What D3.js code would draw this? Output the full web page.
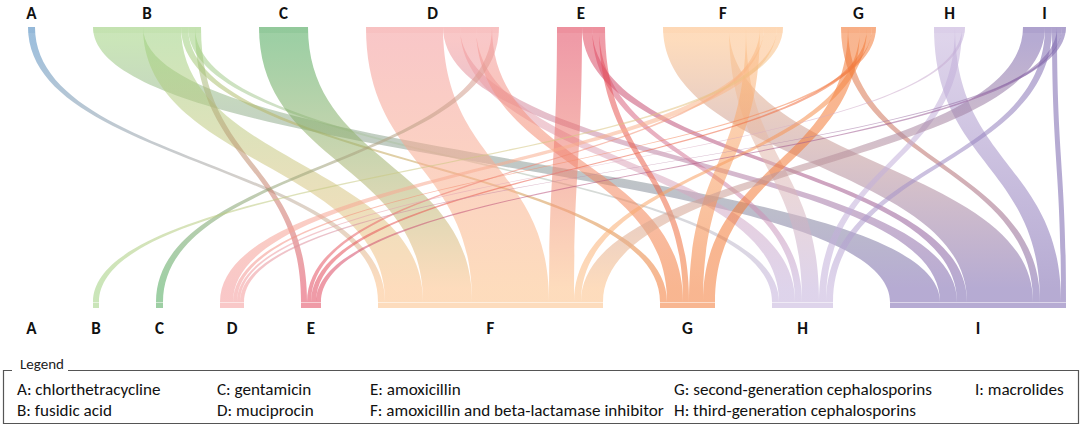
<!DOCTYPE html>
<html><head><meta charset="utf-8">
<script src="https://cdn.jsdelivr.net/npm/d3@7"></script>
<style>body{margin:0;background:#fff;} svg{display:block;}</style>
</head><body>
<svg id="chart" width="1084" height="427"></svg>
<script>
// ---- data ----
const nodeIds = ["A","B","C","D","E","F","G","H","I"];
const nodeColors = ["#4f8bc0","#9fd07f","#4ea85a","#f49a9a","#e2495f","#fcbf86","#f37a36","#c3b0da","#7a66ae"];
const legendNames = ["chlorthetracycline","fusidic acid","gentamicin","muciprocin","amoxicillin",
  "amoxicillin and beta-lactamase inhibitor","second-generation cephalosporins","third-generation cephalosporins","macrolides"];
// links in departure order within each source
const linkSource = ["A", "B","B","B","B","B", "C", "D","D","D","D","D", "E","E","E","E",
  "F","F","F","F","F","F", "G","G","G","G","G", "H","H","H", "I","I","I","I","I"];
const linkTarget = ["F", "I","F","G","H","E", "F", "F","I","H","G","C", "F","I","H","G",
  "I","H","G","E","D","B", "I","G","F","E","D", "I","H","D", "F","H","I","E","D"];
const linkValue  = [7, 50,38,7,7,6, 49, 77,17,16,16,7, 25,10,7,6,
  66,17,14,4,13,6, 7,12,7,5,4, 21,7,3, 22,7,5,5,4];

// ---- layout ----
const xLeft = 28, xRight = 1066, gap = 58;
const topY = 27, botY = 302, barH = 6;
const svg = d3.select("#chart");
const defs = svg.append("defs");

const idx = new Map(nodeIds.map((d,i)=>[d,i]));
const links = linkSource.map((s,i)=>({s:idx.get(s), t:idx.get(linkTarget[i]), v:linkValue[i], i}));
const topTot = nodeIds.map((d,i)=>d3.sum(links.filter(l=>l.s===i),l=>l.v));
const botTot = nodeIds.map((d,i)=>d3.sum(links.filter(l=>l.t===i),l=>l.v));
const total = d3.sum(topTot);
const wScale = d3.scaleLinear().domain([0,total]).range([0, xRight - xLeft - gap*(nodeIds.length-1)]);

// top positions
const topX = []; let cx = xLeft;
nodeIds.forEach((d,i)=>{ topX[i]=cx; cx += wScale(topTot[i]) + gap; });
// bottom positions: non-empty nodes spread from the first one's top slot to the right edge
const botIdx = nodeIds.map((d,i)=>i).filter(i=>botTot[i]>0);
const botStart = topX[botIdx[0]];
const botGap = (xRight - botStart - wScale(total)) / (botIdx.length-1);
const botX = nodeIds.map(()=>null); cx = botStart;
botIdx.forEach(i=>{ botX[i]=cx; cx += wScale(botTot[i]) + botGap; });

// link positions
const sCur = topX.slice();
links.forEach(l=>{ l.sx0=sCur[l.s]; l.sx1=l.sx0+wScale(l.v); sCur[l.s]=l.sx1; });
botIdx.forEach(j=>{
  let c = botX[j];
  links.filter(l=>l.t===j).sort((a,b)=>a.s-b.s || a.i-b.i).forEach(l=>{ l.tx0=c; l.tx1=c+wScale(l.v); c=l.tx1; });
});

const ym = (topY+botY)/2;
const linkPath = l => `M${l.sx0},${topY}C${l.sx0},${ym} ${l.tx0},${ym} ${l.tx0},${botY}L${l.tx1},${botY}C${l.tx1},${ym} ${l.sx1},${ym} ${l.sx1},${topY}Z`;

links.forEach(l=>{
  const g = defs.append("linearGradient").attr("id","g"+l.i)
    .attr("gradientUnits","userSpaceOnUse").attr("x1",0).attr("y1",topY).attr("x2",0).attr("y2",botY);
  g.append("stop").attr("offset","0.05").attr("stop-color",nodeColors[l.s]);
  g.append("stop").attr("offset","0.95").attr("stop-color",nodeColors[l.t]);
});

svg.append("g").selectAll("path").data(links).join("path")
  .attr("d",linkPath).attr("fill",l=>`url(#g${l.i})`).attr("fill-opacity",0.55);

// node bars
svg.append("g").selectAll("rect").data(nodeIds.map((d,i)=>i)).join("rect")
  .attr("x",i=>topX[i]).attr("y",topY).attr("width",i=>wScale(topTot[i])).attr("height",barH)
  .attr("fill",i=>nodeColors[i]).attr("fill-opacity",0.12);
svg.append("g").selectAll("rect").data(botIdx).join("rect")
  .attr("x",i=>botX[i]).attr("y",botY).attr("width",i=>wScale(botTot[i])).attr("height",barH)
  .attr("fill",i=>nodeColors[i]).attr("fill-opacity",0.55);
svg.append("g").selectAll("line").data(botIdx).join("line")
  .attr("x1",i=>botX[i]).attr("x2",i=>botX[i]+wScale(botTot[i])).attr("y1",botY+0.5).attr("y2",botY+0.5)
  .attr("stroke","#fff").attr("stroke-opacity",0.5);

// labels
const lblFont = "Carlito, 'Open Sans', 'Liberation Sans', Arial, sans-serif";
svg.append("g").selectAll("text").data(nodeIds).join("text")
  .attr("x",(d,i)=>topX[i]+wScale(topTot[i])/2).attr("y",19)
  .attr("text-anchor","middle").attr("font-family",lblFont).attr("font-weight","bold").attr("font-size",17)
  .attr("fill","#111").text(d=>d);
svg.append("g").selectAll("text").data(nodeIds).join("text")
  .attr("x",(d,i)=>botX[i]===null ? topX[i]+wScale(topTot[i])/2 : botX[i]+wScale(botTot[i])/2).attr("y",334)
  .attr("text-anchor","middle").attr("font-family",lblFont).attr("font-weight","bold").attr("font-size",17)
  .attr("fill","#111").text(d=>d);

// legend
const lgFont = "Carlito, 'Liberation Sans', Arial, sans-serif";
const lg = svg.append("g").attr("font-family",lgFont);
lg.append("path").attr("d","M68,370.5H1078.5V423.5H3.5V370.5H12").attr("fill","none").attr("stroke","#555").attr("stroke-width",1.2);
lg.append("text").attr("x",20).attr("y",369).attr("font-size",15).attr("fill","#222").text("Legend");
const colX = [17,217,370,674,975];
const legItems = nodeIds.map((d,i)=>({t:`${d}: ${legendNames[i]}`, col:Math.floor(i/2), row:i%2}));
const items = lg.selectAll("text.item").data(legItems).join("text").attr("class","item")
  .attr("x",d=>colX[d.col]).attr("y",d=>d.row===0?395:416).attr("font-size",15).attr("fill","#111").text(d=>d.t);
// fit legend font so the longest entry spans like the original (~294px)
const longest = items.filter(d=>d.col===2 && d.row===1).node();
const fs = 15 * 294 / longest.getComputedTextLength();
items.attr("font-size", fs);
</script>
</body></html>
